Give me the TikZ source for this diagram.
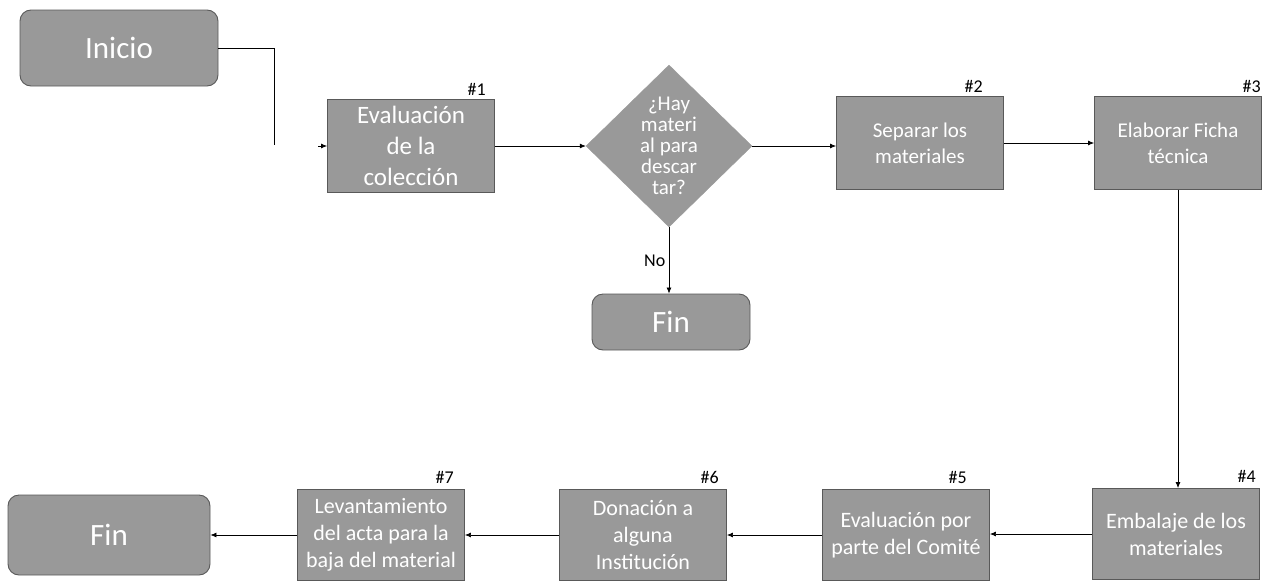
\documentclass[tikz,border=0pt]{standalone}
\usepackage{fontspec}
\setmainfont{Carlito}
\usetikzlibrary{arrows.meta,positioning,shapes.geometric}
\tikzset{
  stepbox/.style={draw=black!65, fill=black!40, line width=0.9pt, text=white, align=center, minimum width=167pt, minimum height=93pt, inner sep=2pt, font=\fontsize{21}{26}\selectfont},
  lowbox/.style={stepbox, minimum height=91pt, font=\fontsize{22}{27}\selectfont},
  termbox/.style={stepbox, rounded corners=11pt, font=\fontsize{31}{36}\selectfont},
  decision/.style={diamond, draw=black!40, fill=black!40, text=white, align=center, minimum width=166pt, minimum height=162pt, inner sep=0pt, font=\fontsize{21}{21}\selectfont},
  tag/.style={inner sep=1pt, font=\fontsize{18}{20}\selectfont},
  arrow/.style={-{Latex[length=6pt,width=5pt]}, line width=0.7pt},
  plain/.style={line width=0.8pt}
}
\begin{document}
\begin{tikzpicture}[x=1pt,y=-1pt]
\useasboundingbox (0,0) rectangle (1263,584);
% upper row
\node[termbox, minimum width=198pt, minimum height=76pt] (inicio) at (119,48) {Inicio};
\node[stepbox, font=\fontsize{25}{31}\selectfont] (b1) at (411,146) {Evaluación\\de la\\colección};
\node[decision] (q) at (669,146) {¿Hay\\materi\\al para\\descar\\tar?};
\node[stepbox] (b2) at (920,143) {Separar los\\materiales};
\node[stepbox] (b3) at (1178,143) {Elaborar Ficha\\técnica};
\node[termbox, minimum width=158pt, minimum height=56pt] (fin1) at (671,322) {Fin};
% lower row
\node[lowbox] (b4) at (1176,534) {Embalaje de los\\materiales};
\node[lowbox] (b5) at (906,535) {Evaluación por\\parte del Comité};
\node[lowbox] (b6) at (643,535) {Donación a\\alguna\\Institución};
\node[lowbox] (b7) at (381,535) {Levantamiento\\del acta para la\\baja del material};
\node[termbox, minimum width=202pt, minimum height=80pt] (fin2) at (109,535) {Fin};
% step numbers
\node[tag, above left=2pt and 8pt of b1.north east] (t1) {\#1};
\node[tag, above left=2pt and 20pt of b2.north east] (t2) {\#2};
\node[tag, above left=2pt and 0pt of b3.north east] (t3) {\#3};
\node[tag, above left=4pt and 3pt of b4.north east] (t4) {\#4};
\node[tag, above left=4pt and 22pt of b5.north east] (t5) {\#5};
\node[tag, above left=4pt and 7pt of b6.north east] (t6) {\#6};
\node[tag, above left=4pt and 10pt of b7.north east] (t7) {\#7};
% connectors
\coordinate (gap) at (274,145);
\coordinate (stub) at (318,146);
\draw[plain] (inicio.east) -| (gap);
\draw[arrow] (stub) -- (b1.west);
\draw[arrow] (b1) -- (q);
\draw[arrow] (q) -- (b2.west |- q);
\draw[arrow] (b2) -- (b3);
\draw[arrow] (q.south) -- node[left, font=\fontsize{18}{20}\selectfont] {No} (q.south |- fin1.north);
\draw[arrow] (b3.south) -- (b3.south |- b4.north);
\draw[arrow] (b4.west) -- (b5.east |- b4.west);
\draw[arrow] (b5) -- (b6);
\draw[arrow] (b6) -- (b7);
\draw[arrow] (b7) -- (fin2);
\end{tikzpicture}
\end{document}
